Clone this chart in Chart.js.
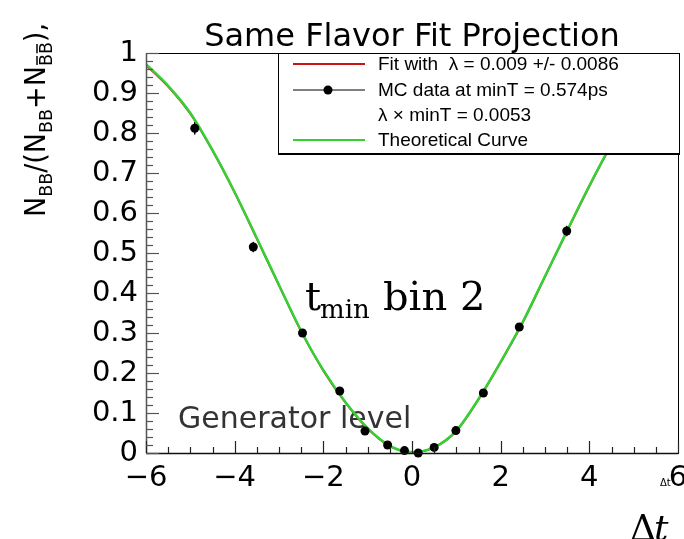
<!DOCTYPE html>
<html>
<head>
<meta charset="utf-8">
<script src="https://cdn.jsdelivr.net/npm/chart.js@4.4.1/dist/chart.umd.min.js"></script>
<style>
  html, body { margin: 0; padding: 0; background: #fff; }
  #wrap { width: 684px; height: 539px; }
</style>
</head>
<body>
<div id="wrap"><canvas id="chart" width="684" height="539"></canvas></div>
<script>
// Delta t grid for the two curves
const curveT = [-6, -5.5, -5, -4.5, -4, -3.5, -3, -2.5, -2, -1.5, -1, -0.5, 0,
                0.5, 1, 1.5, 2, 2.5, 3, 3.5, 4, 4.5, 5, 5.5, 6];
const theoryVals = [0.972, 0.918, 0.850, 0.757, 0.652, 0.537, 0.420, 0.305, 0.207, 0.127, 0.062, 0.018, 0.002,
                    0.014, 0.056, 0.135, 0.228, 0.328, 0.442, 0.556, 0.668, 0.772, 0.865, 0.935, 0.975];
const fitVals    = [0.970, 0.916, 0.848, 0.756, 0.651, 0.536, 0.419, 0.304, 0.206, 0.126, 0.061, 0.017, 0.002,
                    0.014, 0.055, 0.134, 0.227, 0.327, 0.441, 0.555, 0.667, 0.771, 0.864, 0.934, 0.974];

// MC data points
const mcT   = [-4.9, -3.58, -2.47, -1.63, -1.06, -0.55, -0.17, 0.14, 0.5, 0.99, 1.61, 2.42, 3.49];
const mcVal = [0.812, 0.515, 0.300, 0.155, 0.055, 0.020, 0.006, 0.000, 0.014, 0.056, 0.150, 0.315, 0.555];
const mcErr = [0.016, 0.013, 0.010, 0.008, 0.006, 0.005, 0.004, 0.004, 0.005, 0.006, 0.008, 0.010, 0.013];

// axis ticks
const xTicks = [-6, -4, -2, 0, 2, 4, 6];
const xTickLabels = ['\u22126', '\u22124', '\u22122', '0', '2', '4', '6'];
const yTicks = [0, 0.1, 0.2, 0.3, 0.4, 0.5, 0.6, 0.7, 0.8, 0.9, 1];
const yTickLabels = ['0', '0.1', '0.2', '0.3', '0.4', '0.5', '0.6', '0.7', '0.8', '0.9', '1'];

const legendRows = [
  { text: 'Fit with  \u03bb = 0.009 +/- 0.0086', kind: 'line', color: '#c81414' },
  { text: 'MC data at minT = 0.574ps', kind: 'marker', color: '#000' },
  { text: '\u03bb \u00d7 minT = 0.0053', kind: 'none' },
  { text: 'Theoretical Curve', kind: 'line', color: '#33d133' }
];

const RED = '#c81414';
const GREEN = '#33d133';

const toXY = (xs, ys) => xs.map((v, i) => ({ x: v, y: ys[i] }));

// frame, ROOT style inner ticks, texts and legend
const decor = {
  id: 'decor',
  beforeDatasetsDraw(chart) {
    const { ctx, scales: { x, y } } = chart;
    ctx.save();
    // free text
    ctx.fillStyle = '#333';
    ctx.font = '30px "DejaVu Sans"';
    ctx.textBaseline = 'alphabetic';
    ctx.fillText('Generator level', 178, 428);

    ctx.fillStyle = '#000';
    ctx.font = '40px "DejaVu Serif"';
    ctx.fillText('t', 305, 310);
    ctx.font = '26px "DejaVu Serif"';
    ctx.fillText('min', 320, 318);
    ctx.font = '40px "DejaVu Serif"';
    ctx.fillText('bin 2', 383, 310);

    // error bars
    ctx.strokeStyle = '#000';
    ctx.lineWidth = 1.5;
    mcT.forEach((t, i) => {
      const px = x.getPixelForValue(t);
      ctx.beginPath();
      ctx.moveTo(px, y.getPixelForValue(mcVal[i] - mcErr[i]));
      ctx.lineTo(px, y.getPixelForValue(mcVal[i] + mcErr[i]));
      ctx.stroke();
    });
    ctx.restore();
  },
  afterDatasetsDraw(chart) {
    const { ctx, chartArea: a, scales: { x, y } } = chart;
    ctx.save();
    // frame
    ctx.lineWidth = 1;
    ctx.strokeStyle = '#000';
    ctx.strokeRect(a.left + 0.5, a.top + 0.5, a.right - a.left, a.bottom - a.top);
    ctx.lineWidth = 1.5;
    ctx.strokeStyle = '#555';
    ctx.beginPath(); ctx.moveTo(a.left + 0.5, a.top); ctx.lineTo(a.left + 0.5, a.bottom); ctx.stroke();
    ctx.strokeStyle = '#111';
    ctx.beginPath(); ctx.moveTo(a.left, a.bottom + 0.5); ctx.lineTo(a.right, a.bottom + 0.5); ctx.stroke();

    // x ticks
    ctx.lineWidth = 1.2;
    ctx.strokeStyle = '#222';
    for (let v = -6; v <= 6.001; v += 0.5) {
      const px = Math.round(x.getPixelForValue(v)) + 0.5;
      const major = Math.abs(v / 2 - Math.round(v / 2)) < 1e-6;
      ctx.beginPath();
      ctx.moveTo(px, a.bottom);
      ctx.lineTo(px, a.bottom - (major ? 12 : 6));
      ctx.stroke();
    }
    // y ticks
    ctx.strokeStyle = '#555';
    for (let k = 0; k <= 50; k++) {
      const py = Math.round(y.getPixelForValue(k * 0.02)) + 0.5;
      ctx.beginPath();
      ctx.moveTo(a.left, py);
      ctx.lineTo(a.left + (k % 5 === 0 ? 13 : 7), py);
      ctx.stroke();
    }

    // legend box
    const lx = 278, ly = 53, lw = 401, lh = 100;
    ctx.fillStyle = '#fff';
    ctx.fillRect(lx, ly, lw, lh);
    ctx.strokeStyle = '#000';
    ctx.lineWidth = 1;
    ctx.strokeRect(lx + 0.5, ly + 0.5, lw, lh);
    ctx.lineWidth = 2;
    ctx.beginPath(); ctx.moveTo(lx, ly + lh + 1); ctx.lineTo(lx + lw + 1, ly + lh + 1); ctx.stroke();

    const baselines = [70, 96, 121, 146];
    ctx.font = '19px "Liberation Sans"';
    legendRows.forEach((r, i) => {
      const by = baselines[i];
      const sy = by - 6;
      if (r.kind === 'line') {
        ctx.strokeStyle = r.color;
        ctx.lineWidth = 2;
        ctx.beginPath(); ctx.moveTo(293, sy); ctx.lineTo(365, sy); ctx.stroke();
      } else if (r.kind === 'marker') {
        ctx.strokeStyle = '#000';
        ctx.lineWidth = 1;
        ctx.beginPath(); ctx.moveTo(293, sy); ctx.lineTo(365, sy); ctx.stroke();
        ctx.fillStyle = '#000';
        ctx.beginPath(); ctx.arc(328, sy, 4.5, 0, Math.PI * 2); ctx.fill();
      }
      ctx.fillStyle = '#000';
      ctx.fillText(r.text, 378, by);
    });

    // title
    ctx.fillStyle = '#000';
    ctx.font = '32px "DejaVu Sans"';
    ctx.textAlign = 'center';
    ctx.fillText('Same Flavor Fit Projection', 412, 46);
    ctx.textAlign = 'left';

    // axis titles
    ctx.font = '10px "DejaVu Sans"';
    ctx.fillText('\u0394t', 660, 486);
    ctx.font = '36px "DejaVu Serif"';
    ctx.fillText('\u0394', 630, 540);
    ctx.font = 'italic 36px "DejaVu Serif"';
    ctx.fillText('t', 654, 540);

    // y title: N_BB/(N_BB+N_B̄B̄),
    const segs = [
      { t: 'N' }, { t: 'BB', sub: true }, { t: '/(N' }, { t: 'BB', sub: true },
      { t: '+N' }, { t: 'BB', sub: true, bar: true }, { t: '),' }
    ];
    const mainF = '28px "DejaVu Sans"', subF = '18px "DejaVu Sans"';
    let total = 0;
    segs.forEach(s => { ctx.font = s.sub ? subF : mainF; s.w = ctx.measureText(s.t).width; total += s.w; });
    const k = 194 / total;
    ctx.translate(45, 217);
    ctx.rotate(-Math.PI / 2);
    ctx.scale(k, 1);
    let cx = 0;
    segs.forEach(s => {
      ctx.font = s.sub ? subF : mainF;
      const dy = s.sub ? 7 : 0;
      ctx.fillText(s.t, cx, dy);
      if (s.bar) {
        const bw = s.w / 2;
        ctx.lineWidth = 1.5;
        ctx.strokeStyle = '#000';
        for (let j = 0; j < 2; j++) {
          ctx.beginPath(); ctx.moveTo(cx + j * bw + 1, dy - 15); ctx.lineTo(cx + (j + 1) * bw - 2, dy - 15); ctx.stroke();
        }
      }
      cx += s.w;
    });
    ctx.restore();
  }
};

new Chart(document.getElementById('chart'), {
  type: 'scatter',
  data: {
    datasets: [
      {
        label: 'MC data at minT = 0.574ps',
        data: toXY(mcT, mcVal),
        showLine: false,
        pointRadius: 4.5,
        pointBackgroundColor: '#000',
        pointBorderWidth: 0,
        clip: false,
        order: 0
      },
      {
        label: 'Theoretical Curve',
        data: toXY(curveT, theoryVals),
        showLine: true,
        borderColor: GREEN,
        borderWidth: 2.5,
        pointRadius: 0,
        cubicInterpolationMode: 'monotone',
        order: 1
      },
      {
        label: 'Fit',
        data: toXY(curveT, fitVals),
        showLine: true,
        borderColor: RED,
        borderWidth: 2,
        pointRadius: 0,
        cubicInterpolationMode: 'monotone',
        order: 2
      }
    ]
  },
  options: {
    responsive: false,
    devicePixelRatio: 1,
    animation: false,
    layout: { padding: { left: 0, top: 53, right: 6, bottom: 0 } },
    plugins: { legend: { display: false }, tooltip: { enabled: false } },
    scales: {
      x: {
        type: 'linear', min: -6, max: 6,
        grid: { display: false, drawTicks: false },
        border: { display: false },
        afterBuildTicks: s => { s.ticks = xTicks.map(v => ({ value: v })); },
        afterFit: s => { s.height = 86; s.paddingLeft = 0; s.paddingRight = 0; },
        ticks: {
          color: '#000', padding: 8, maxRotation: 0,
          font: { family: 'DejaVu Sans', size: 29 },
          callback: (v, i) => xTickLabels[i]
        }
      },
      y: {
        min: 0, max: 1,
        grid: { display: false, drawTicks: false },
        border: { display: false },
        afterBuildTicks: s => { s.ticks = yTicks.map(v => ({ value: v })); },
        afterFit: s => { s.width = 146; s.paddingTop = 0; s.paddingBottom = 0; },
        ticks: {
          color: '#000', padding: 8,
          font: { family: 'DejaVu Sans', size: 29 },
          callback: (v, i) => yTickLabels[i]
        }
      }
    }
  },
  plugins: [decor]
});
</script>
</body>
</html>
